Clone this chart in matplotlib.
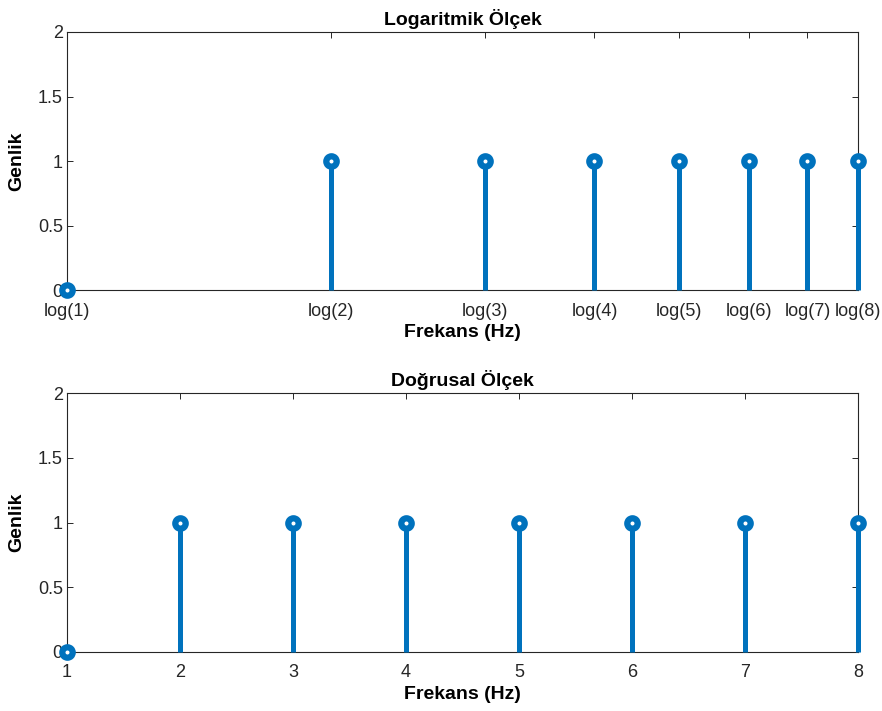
import numpy as np
import matplotlib.pyplot as plt

plt.rcParams['font.family'] = ['Liberation Sans', 'DejaVu Sans']

freq = [1, 2, 3, 4, 5, 6, 7, 8]
amp = [0, 1, 1, 1, 1, 1, 1, 1]
log_labels = ['log(1)', 'log(2)', 'log(3)', 'log(4)', 'log(5)', 'log(6)', 'log(7)', 'log(8)']
y_ticks = [0, 0.5, 1, 1.5, 2]
y_labels = ['0', '0.5', '1', '1.5', '2']

blue = '#0072BD'
ink = '#262626'

fig = plt.figure(figsize=(8.82, 7.11), dpi=100)
ax1 = fig.add_axes([0.076, 0.592, 0.897, 0.363])
ax2 = fig.add_axes([0.076, 0.083, 0.897, 0.364])

logf = np.log(freq)


def draw_stems(ax, x, y):
    for xi, yi in zip(x, y):
        ax.plot([xi, xi], [0, yi], color=blue, lw=3.6, solid_capstyle='butt',
                clip_on=False, zorder=3)
    ax.plot(x, y, 'o', ms=7.5, mfc='white', mec=blue, mew=4.5,
            clip_on=False, zorder=4)


def style(ax, title):
    ax.set_ylim(0, 2)
    ax.set_yticks(y_ticks)
    ax.set_yticklabels(y_labels)
    ax.tick_params(direction='in', length=4, width=0.7, colors=ink,
                   labelsize=13, top=True, right=True)
    ax.tick_params(axis='x', pad=9)
    ax.tick_params(axis='y', pad=3)
    for s in ax.spines.values():
        s.set_color(ink)
        s.set_linewidth(0.8)
    ax.set_title(title, fontsize=14, fontweight='bold', color='black', pad=5)
    ax.set_xlabel('Frekans (Hz)', fontsize=14, fontweight='bold', labelpad=3)
    ax.set_ylabel('Genlik', fontsize=14, fontweight='bold', labelpad=9)


draw_stems(ax1, logf, amp)
ax1.set_xlim(logf[0], logf[-1])
ax1.set_xticks(logf)
ax1.set_xticklabels(log_labels)
style(ax1, 'Logaritmik Ölçek')

draw_stems(ax2, freq, amp)
ax2.set_xlim(1, 8)
ax2.set_xticks(freq)
style(ax2, 'Doğrusal Ölçek')

fig.savefig('out.png', dpi=100)
